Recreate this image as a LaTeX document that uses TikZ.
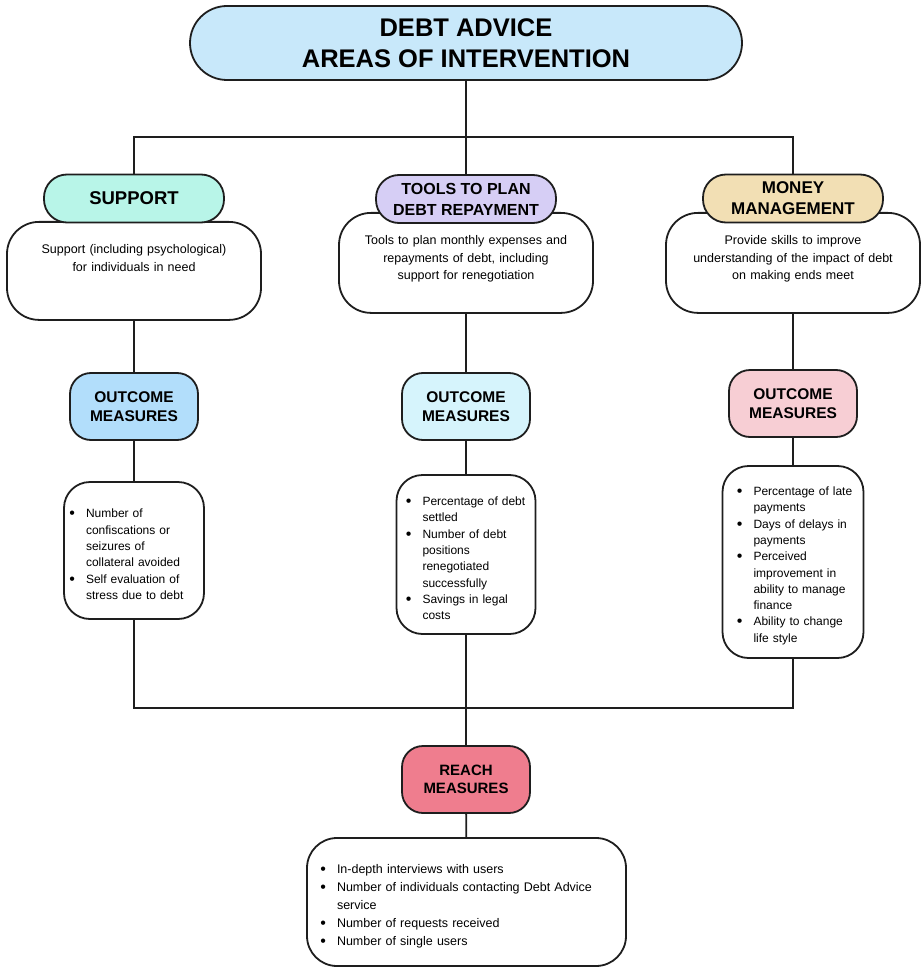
\documentclass[tikz,border=0pt]{standalone}
\usepackage{fontspec}
\setmainfont{Liberation Sans}
\usepackage{enumitem}
\setlist[itemize]{nosep, labelsep=11pt,
  label=\raisebox{-1pt}{\fontsize{16}{16}\selectfont\textbullet}}
\usetikzlibrary{positioning}
\definecolor{ink}{HTML}{1E1E1E}
\definecolor{titleblue}{HTML}{C8E8FA}
\definecolor{supgreen}{HTML}{B8F5E8}
\definecolor{toolpurple}{HTML}{D6CEF5}
\definecolor{moneytan}{HTML}{F2DFB4}
\definecolor{outblue}{HTML}{B2DEFB}
\definecolor{outcyan}{HTML}{D6F4FC}
\definecolor{outpink}{HTML}{F7CED4}
\definecolor{reachred}{HTML}{EF7D8E}
\tikzset{
  hub/.style={rectangle, rounded corners=37pt, draw=ink, line width=1.8pt,
    fill=titleblue, minimum width=552pt, minimum height=74pt, align=center,
    font=\bfseries\fontsize{25.5}{31}\selectfont},
  area/.style={rectangle, rounded corners=23pt, draw=ink, line width=1.8pt,
    minimum width=180pt, minimum height=48pt, align=center, inner sep=2pt,
    font=\bfseries\fontsize{17}{21}\selectfont},
  areatext/.style={rectangle, rounded corners=32pt, draw=ink, line width=1.8pt,
    fill=white, text width=242pt, inner xsep=6pt, inner ysep=0pt, align=center,
    text height=32pt, font=\fontsize{12.5}{17.5}\selectfont},
  measure/.style={rectangle, rounded corners=21pt, draw=ink, line width=1.8pt,
    minimum width=128pt, minimum height=67pt, align=center,
    font=\bfseries\fontsize{15.5}{18.5}\selectfont},
  listbox/.style={rectangle, rounded corners=26pt, draw=ink, line width=1.8pt,
    fill=white, inner xsep=6pt, align=left, font=\fontsize{12}{16.3}\selectfont},
  link/.style={draw=ink, line width=1.8pt}
}
\begin{document}
\begin{tikzpicture}[x=1pt, y=-1pt]
\useasboundingbox (0,0) rectangle (921,968);

\node (title) [hub] at (466,43) {DEBT ADVICE\\AREAS OF INTERVENTION};

% area descriptions (under the headers)
\node (supText)   [areatext, text depth=66pt, anchor=north] at (134,221)
  {Support (including psychological)\\for individuals in need};
\node (toolText)  [areatext, text depth=68pt, anchor=north] at (466,212)
  {Tools to plan monthly expenses and\\repayments of debt, including\\support for renegotiation};
\node (moneyText) [areatext, text depth=68pt, anchor=north] at (793,212)
  {Provide skills to improve\\understanding of the impact of debt\\on making ends meet};

\node (sup)   [area, fill=supgreen, font=\bfseries\fontsize{18.5}{21}\selectfont] at (134,198.5) {SUPPORT};
\node (tools) [area, fill=toolpurple, font=\bfseries\fontsize{16}{21}\selectfont] at (466,199) {TOOLS TO PLAN\\DEBT REPAYMENT};
\node (money) [area, fill=moneytan] at (793,198.5) {MONEY\\MANAGEMENT};

\node (outSup)   [measure, fill=outblue] at (134,406.5) {OUTCOME\\MEASURES};
\node (outTools) [measure, fill=outcyan] at (466,406.5) {OUTCOME\\MEASURES};
\node (outMoney) [measure, fill=outpink] at (793,403.5) {OUTCOME\\MEASURES};

\node (listSup) [listbox, text width=128pt, minimum height=137pt] at (134,550.5)
  {\begin{itemize}[leftmargin=16pt]
   \item Number of\\confiscations or\\seizures of\\collateral avoided
   \item Self evaluation of\\stress due to debt
   \end{itemize}};
\node (listTools) [listbox, text width=127pt, minimum height=159pt] at (466,554.5)
  {\begin{itemize}[leftmargin=20pt]
   \item Percentage of debt\\settled
   \item Number of debt\\positions\\renegotiated\\successfully
   \item Savings in legal\\costs
   \end{itemize}};
\node (listMoney) [listbox, text width=129pt, minimum height=192pt] at (793,562)
  {\begin{itemize}[leftmargin=25pt]
   \item Percentage of late\\payments
   \item Days of delays in\\payments
   \item Perceived\\improvement in\\ability to manage\\finance
   \item Ability to change\\life style
   \end{itemize}};

\node (reach) [measure, fill=reachred, font=\bfseries\fontsize{15}{18.5}\selectfont] at (466,779.5) {REACH\\MEASURES};
\node (final) [listbox, text width=307pt, minimum height=128pt, rounded corners=30pt,
  font=\fontsize{12.5}{18}\selectfont] at (466.5,902)
  {\begin{itemize}[leftmargin=24pt]
   \item In-depth interviews with users
   \item Number of individuals contacting Debt Advice\\service
   \item Number of requests received
   \item Number of single users
   \end{itemize}};

% connectors
\coordinate (bus)  at (466,137);
\coordinate (join) at (466,708);
\draw [link] (title) -- (bus);
\draw [link] (sup) |- (bus) -| (money);
\draw [link] (bus) -- (tools);
\draw [link] (supText) -- (outSup);
\draw [link] (toolText) -- (outTools);
\draw [link] (moneyText) -- (outMoney);
\draw [link] (outSup) -- (listSup);
\draw [link] (outTools) -- (listTools);
\draw [link] (outMoney) -- (listMoney);
\draw [link] (listSup) |- (join) -| (listMoney);
\draw [link] (listTools) -- (reach);
\draw [link] (reach) -- (final);
\end{tikzpicture}
\end{document}
